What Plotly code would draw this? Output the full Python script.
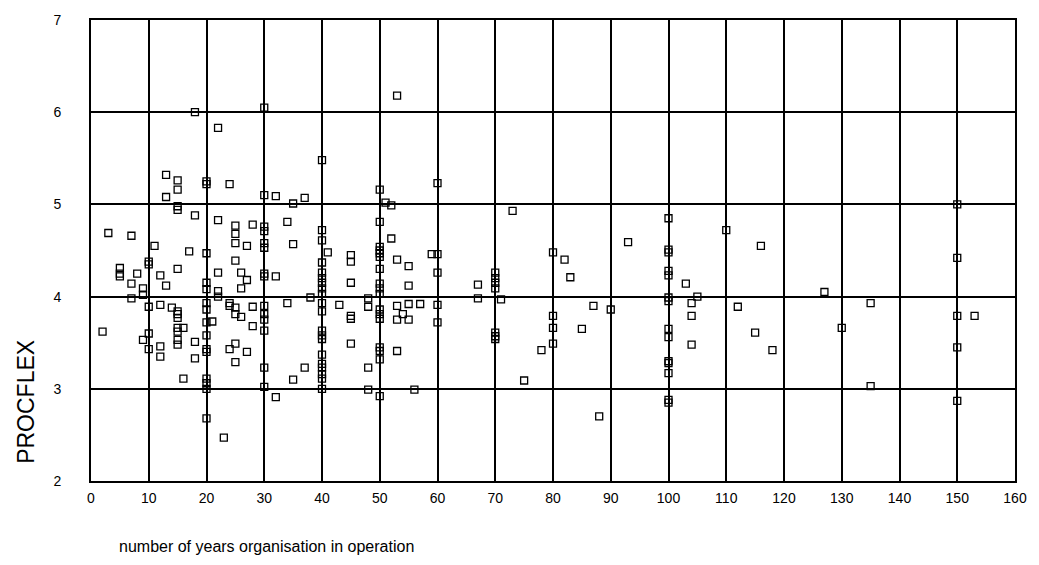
import plotly.graph_objects as go

# Years in operation for each organisation
years = [
    18, 30, 22, 13, 15, 15, 13, 20, 20, 24, 30, 32, 35, 15, 15, 18, 22, 25, 25, 28,
    30, 30, 34, 3, 7, 11, 17, 20, 25, 27, 30, 30, 35, 10, 10, 5, 5, 5, 8, 12,
    15, 22, 25, 26, 27, 30, 30, 32, 7, 9, 13, 20, 20, 22, 26,
    9, 22, 7, 10, 12, 14, 15, 15, 15, 20, 20, 24, 24, 25, 25, 26, 28, 30, 30, 30,
    30, 34, 2, 10, 9, 10, 12, 12, 15, 15, 16, 15, 15, 18, 20, 21, 20, 20, 20, 18,
    24, 25, 27, 25, 28, 30, 16, 20, 20, 20, 30, 32, 35, 20, 23,
    53, 40, 50, 60, 37, 51, 52, 40, 40, 50, 52, 41, 45, 45, 50, 50, 50, 50, 40, 53,
    55, 50, 59, 60, 60, 40, 40, 40, 40, 45, 50, 50, 55, 67, 70, 70, 70, 70,
    40, 50, 38, 40, 40, 43, 45, 45, 48, 48, 50, 50, 50, 53, 55, 57, 54, 53, 55, 60,
    60, 67, 71, 70, 70, 70, 40, 40, 40, 45, 50, 50, 50, 53, 40, 40, 40, 40, 40, 37,
    48, 40, 48, 56, 50,
    73, 80, 82, 83, 93, 100, 100, 100, 100, 100, 103, 110, 100, 100, 105, 104, 112, 87, 90, 80,
    80, 85, 80, 78, 104, 100, 100, 104, 100, 100, 100, 75, 100, 100, 88, 115,
    116, 118, 127, 130, 135, 135, 150, 150, 150, 153, 150, 150,
]

# PROCFLEX score for each organisation
procflex = [
    6.00, 6.05, 5.83, 5.32, 5.26, 5.16, 5.08, 5.25, 5.22, 5.22, 5.10, 5.09, 5.01, 4.98, 4.94, 4.88, 4.83, 4.77, 4.68, 4.78,
    4.76, 4.71, 4.81, 4.69, 4.66, 4.55, 4.49, 4.47, 4.58, 4.55, 4.58, 4.53, 4.57, 4.38, 4.35, 4.31, 4.25, 4.22, 4.25, 4.23,
    4.30, 4.26, 4.39, 4.26, 4.18, 4.25, 4.22, 4.22, 4.14, 4.09, 4.12, 4.15, 4.08, 4.06, 4.09,
    4.02, 4.00, 3.98, 3.89, 3.91, 3.88, 3.84, 3.81, 3.77, 3.93, 3.86, 3.93, 3.90, 3.88, 3.81, 3.78, 3.89, 3.90, 3.81, 3.75,
    3.63, 3.93, 3.62, 3.60, 3.53, 3.43, 3.46, 3.35, 3.66, 3.62, 3.66, 3.53, 3.48, 3.51, 3.72, 3.73, 3.58, 3.43, 3.40, 3.33,
    3.43, 3.49, 3.40, 3.29, 3.68, 3.23, 3.11, 3.11, 3.06, 3.00, 3.02, 2.91, 3.10, 2.68, 2.47,
    6.18, 5.48, 5.16, 5.23, 5.07, 5.02, 4.99, 4.72, 4.61, 4.81, 4.63, 4.48, 4.45, 4.38, 4.54, 4.50, 4.47, 4.43, 4.37, 4.40,
    4.33, 4.30, 4.46, 4.46, 4.26, 4.26, 4.20, 4.15, 4.09, 4.15, 4.14, 4.09, 4.12, 4.13, 4.26, 4.20, 4.15, 4.09,
    4.03, 4.03, 3.99, 3.93, 3.84, 3.91, 3.79, 3.76, 3.98, 3.89, 3.86, 3.81, 3.76, 3.90, 3.92, 3.92, 3.81, 3.75, 3.75, 3.91,
    3.72, 3.98, 3.97, 3.61, 3.57, 3.54, 3.63, 3.58, 3.54, 3.49, 3.45, 3.41, 3.32, 3.41, 3.37, 3.27, 3.23, 3.16, 3.11, 3.23,
    3.23, 3.00, 2.99, 2.99, 2.92,
    4.93, 4.48, 4.40, 4.21, 4.59, 4.85, 4.51, 4.48, 4.28, 4.23, 4.14, 4.72, 3.99, 3.95, 4.00, 3.93, 3.89, 3.90, 3.86, 3.79,
    3.66, 3.65, 3.49, 3.42, 3.79, 3.65, 3.56, 3.48, 3.30, 3.28, 3.17, 3.09, 2.88, 2.85, 2.70, 3.61,
    4.55, 3.42, 4.05, 3.66, 3.93, 3.03, 5.00, 4.42, 3.79, 3.79, 3.45, 2.87,
]

x_ticks = list(range(0, 161, 10))
y_ticks = [2, 3, 4, 5, 6, 7]

font_family = "Liberation Sans, Arial, sans-serif"

fig = go.Figure(
    go.Scatter(
        x=years,
        y=procflex,
        mode="markers",
        marker=dict(
            symbol="square-open",
            size=7,
            color="black",
            line=dict(color="black", width=1.3),
        ),
        showlegend=False,
    )
)

fig.update_layout(
    width=1039,
    height=565,
    margin=dict(l=91, r=19, t=17, b=84),
    paper_bgcolor="white",
    plot_bgcolor="white",
    font=dict(family=font_family, color="black", size=14),
)

fig.update_xaxes(
    range=[0, 160],
    tickvals=x_ticks,
    ticktext=[str(v) for v in x_ticks],
    showgrid=True,
    gridcolor="black",
    gridwidth=2,
    showline=True,
    linecolor="black",
    linewidth=2,
    mirror=True,
    zeroline=False,
    ticks="",
    ticklabelstandoff=3,
    tickfont=dict(size=14),
)

fig.update_yaxes(
    range=[2, 7],
    tickvals=y_ticks,
    ticktext=[str(v) for v in y_ticks],
    showgrid=True,
    gridcolor="black",
    gridwidth=1.5,
    showline=True,
    linecolor="black",
    linewidth=2,
    mirror=True,
    zeroline=False,
    ticks="",
    ticklabelstandoff=25,
    tickfont=dict(size=14),
)

# Axis titles placed as free text
fig.add_annotation(
    text="number of years organisation in operation",
    xref="paper", yref="paper",
    x=(117 - 91) / 929, y=-(547 - 481) / 464,
    xanchor="left", yanchor="middle",
    showarrow=False,
    font=dict(size=16, family=font_family, color="black"),
)
fig.add_annotation(
    text="PROCFLEX",
    xref="paper", yref="paper",
    x=-(91 - 25) / 929, y=(481 - 401) / 464,
    xanchor="center", yanchor="middle",
    textangle=-90,
    showarrow=False,
    font=dict(size=23, family=font_family, color="black"),
)

fig.write_html("out.html")
